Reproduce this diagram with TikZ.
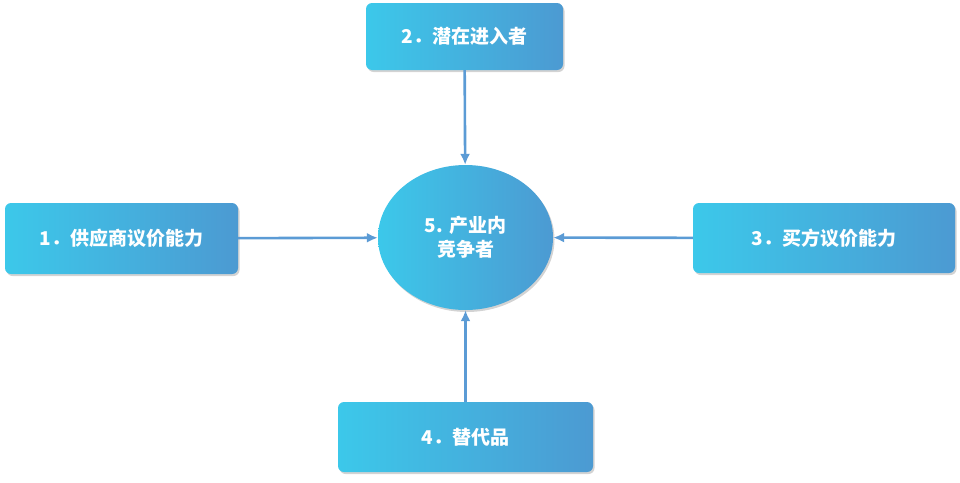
\documentclass[tikz,border=0pt]{standalone}
\usepackage{fontspec}
\setmainfont{Noto Sans CJK SC}
\usetikzlibrary{shadows,arrows.meta,shapes.geometric}
\definecolor{boxcyan}{HTML}{3CC8EA}
\definecolor{boxblue}{HTML}{4C9AD2}
\definecolor{arrowcol}{HTML}{5B9BD5}
\tikzset{
  forcebox/.style={rounded corners=6pt, left color=boxcyan, right color=boxblue,
    drop shadow={opacity=0.35,shadow xshift=1.5pt,shadow yshift=-2pt},
    text=white, font=\bfseries\fontsize{19}{22}\selectfont, inner sep=0pt},
  corebox/.style={ellipse, left color=boxcyan, right color=boxblue,
    drop shadow={opacity=0.35,shadow xshift=1.5pt,shadow yshift=-2pt},
    text=white, font=\bfseries\fontsize{19}{24}\selectfont, align=center, inner sep=0pt},
  force/.style={draw=arrowcol, line width=2.6pt, -{Latex[length=11pt,width=10pt]}}
}
\begin{document}
\begin{tikzpicture}[x=1pt,y=-1pt]
  \useasboundingbox (0,0) rectangle (960,482);
  % Nodes
  \node[corebox, minimum width=175pt, minimum height=145pt] (core) at (465.5,237.5) {5. 产业内\\竞争者};
  \node[forcebox, minimum width=197pt, minimum height=67pt] (entrant) at (464.5,36.5) {2．潜在进入者};
  \node[forcebox, minimum width=233pt, minimum height=71pt] (supplier) at (121.5,238.5) {1．供应商议价能力};
  \node[forcebox, minimum width=262pt, minimum height=70pt] (buyer) at (824,238) {3．买方议价能力};
  \node[forcebox, minimum width=255pt, minimum height=70pt] (substitute) at (465.5,437) {4．替代品};
  % Edges
  \draw[force] (entrant) -- (core);
  \draw[force] (supplier) -- (core);
  \draw[force] (buyer) -- (core);
  \draw[force] (substitute) -- (core);
\end{tikzpicture}
\end{document}
